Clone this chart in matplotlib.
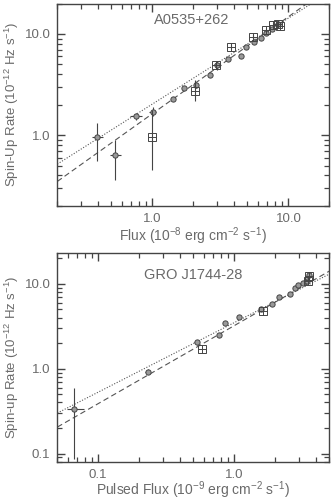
import numpy as np
import matplotlib
matplotlib.use("Agg")
import matplotlib.pyplot as plt
from matplotlib.ticker import LogLocator, NullFormatter

plt.rcParams['font.family'] = ['Liberation Sans', 'DejaVu Sans']
plt.rcParams['mathtext.default'] = 'regular'

# A0535+262 : circles (flux, rate, errors as low/high bounds)
a_flux = [0.39, 0.53, 0.76, 1.01, 1.41, 1.70, 2.09, 2.64, 2.98, 3.61, 4.52, 4.91, 5.62, 6.25, 6.87, 7.60, 8.36]
a_rate = [0.95, 0.635, 1.53, 1.70, 2.27, 2.95, 3.12, 3.91, 4.91, 5.63, 6.02, 7.5, 8.28, 9.19, 10.3, 11.1, 12.5]
a_xlo = [0.357, 0.485, 0.69, 0.95, 1.36, 1.64, 2.02, 2.56, 2.80, 3.50, 4.40, 4.78, 5.48, 6.10, 6.70, 7.42, 8.15]
a_xhi = [0.43, 0.59, 0.84, 1.07, 1.46, 1.76, 2.16, 2.72, 3.20, 3.72, 4.64, 5.04, 5.76, 6.40, 7.04, 7.78, 8.57]
a_ylo = [0.55, 0.36, 1.42, 1.55, 2.17, 2.83, 2.95, 3.75, 4.40, 5.40, 5.80, 7.25, 8.00, 8.90, 9.98, 10.8, 12.1]
a_yhi = [1.33, 0.90, 1.65, 1.90, 2.37, 3.07, 3.30, 4.07, 5.40, 5.86, 6.24, 7.75, 8.56, 9.48, 10.6, 11.4, 12.9]
# A0535+262 : squares
a_sq_flux = [1.0, 2.06, 2.95, 3.79, 5.52, 6.87, 7.77, 8.40, 8.74]
a_sq_rate = [0.95, 2.75, 4.9, 7.5, 9.4, 10.96, 12.3, 12.6, 12.0]
a_sq_ylo = [0.45, 2.2, 4.6, 7.1, 8.9, 10.5, 11.8, 12.1, 11.5]
a_sq_yhi = [1.77, 3.5, 5.2, 7.9, 9.9, 11.4, 12.8, 13.1, 12.5]

# GRO J1744-28 : circles
g_flux = [0.066, 0.231, 0.53, 0.772, 0.855, 1.08, 1.57, 1.88, 2.14, 2.57, 2.79, 2.92, 3.19, 3.45, 3.55]
g_rate = [0.333, 0.925, 2.04, 2.53, 3.45, 4.07, 5.1, 5.74, 6.93, 7.6, 9.0, 9.6, 10.4, 10.9, 12.6]
g_xlo = [0.059, 0.222, 0.51, 0.745, 0.83, 1.04, 1.52, 1.82, 2.07, 2.49, 2.71, 2.84, 3.10, 3.35, 3.45]
g_xhi = [0.078, 0.240, 0.55, 0.80, 0.88, 1.12, 1.62, 1.94, 2.21, 2.65, 2.87, 3.00, 3.28, 3.55, 3.65]
g_ylo = [0.085, 0.87, 1.93, 2.40, 3.28, 3.88, 4.85, 5.48, 6.62, 7.28, 8.6, 9.2, 9.95, 10.4, 12.0]
g_yhi = [0.59, 0.98, 2.15, 2.66, 3.62, 4.26, 5.35, 6.00, 7.24, 7.92, 9.4, 10.0, 10.85, 11.4, 13.2]
# GRO J1744-28 : squares
g_sq_flux = [0.576, 1.64, 3.46, 3.52]
g_sq_rate = [1.70, 4.83, 10.7, 12.3]

# power-law fit lines: (normalisation at flux=1, index)
a_dotted = (2.03, 0.849)
a_dashed = (1.63, 0.958)
g_dotted = (0.30 / 0.05**0.82, 0.82)
g_dashed = (0.205 / 0.05**0.92, 0.92)

GRAY = '#444444'
TXT = '#6a6a6a'


def panel(ax, xlim, ylim, fx, fr, xlo, xhi, ylo, yhi, sx, sr, sylo, syhi, dotted, dashed,
          name, name_pos, xlabel, ylabel, xticks, yticks, xlab_y):
    xx = np.array(xlim)
    ax.plot(xx, dotted[0] * xx**dotted[1], color='#555555', ls=(0, (1, 1.5)), lw=0.8)
    ax.plot(xx, dashed[0] * xx**dashed[1], color='#555555', ls=(0, (5, 3)), lw=0.8)
    fx = np.array(fx); fr = np.array(fr)
    ax.errorbar(fx, fr, xerr=[fx - np.array(xlo), np.array(xhi) - fx],
                yerr=[fr - np.array(ylo), np.array(yhi) - fr],
                fmt='none', ecolor='#444444', elinewidth=0.8, capsize=0)
    ax.plot(fx, fr, 'o', ms=3.8, mfc='#999999', mec='#444444', mew=0.7)
    sx = np.array(sx); sr = np.array(sr)
    if sylo is not None:
        ax.errorbar(sx, sr, yerr=[sr - np.array(sylo), np.array(syhi) - sr],
                    fmt='none', ecolor='#444444', elinewidth=0.8, capsize=0)
    ax.plot(sx, sr, 's', ms=5.5, mfc='none', mec='#444444', mew=0.7)
    ax.plot(sx, sr, '+', ms=5.5, color='#444444', mew=0.7)
    ax.set_xscale('log'); ax.set_yscale('log')
    ax.set_xlim(xlim); ax.set_ylim(ylim)
    ax.set_xticks(xticks)
    ax.set_xticklabels(['%.1f' % t for t in xticks])
    ax.set_yticks(yticks)
    ax.set_yticklabels(['%.1f' % t for t in yticks])
    for axis in (ax.xaxis, ax.yaxis):
        axis.set_minor_locator(LogLocator(base=10, subs=np.arange(2, 10), numticks=20))
        axis.set_minor_formatter(NullFormatter())
    ax.tick_params(which='both', direction='in', top=True, right=True, color=GRAY,
                   labelcolor=TXT, labelsize=9.5, pad=5)
    ax.tick_params(which='major', length=6, width=1.0)
    ax.tick_params(which='minor', length=3.5, width=0.9)
    for s in ax.spines.values():
        s.set_color(GRAY); s.set_linewidth(1.0)
    ax.text(name_pos[0], name_pos[1], name, transform=ax.transAxes, ha='center',
            va='center', fontsize=10.5, color=TXT)
    ax.set_xlabel(xlabel, fontsize=10, color=TXT, va='center')
    ax.xaxis.set_label_coords(0.5, xlab_y)
    ax.set_ylabel(ylabel, fontsize=9.5, color=TXT)
    ax.yaxis.set_label_coords(-0.135, 0.5)


fig = plt.figure(figsize=(3.32, 5.01), dpi=100)
ax1 = fig.add_axes([0.1726, 0.589, 0.8194, 0.404])
ax2 = fig.add_axes([0.1726, 0.0784, 0.8194, 0.416])

panel(ax1, (0.2, 20), (0.2, 20), a_flux, a_rate, a_xlo, a_xhi, a_ylo, a_yhi,
      a_sq_flux, a_sq_rate, a_sq_ylo, a_sq_yhi, a_dotted, a_dashed,
      'A0535+262', (0.495, 0.918), 'Flux (10$^{-8}$ erg cm$^{-2}$ s$^{-1}$)',
      'Spin-Up Rate (10$^{-12}$ Hz s$^{-1}$)', [1.0, 10.0], [1.0, 10.0], -0.148)
panel(ax2, (0.05, 5), (0.08, 23), g_flux, g_rate, g_xlo, g_xhi, g_ylo, g_yhi,
      g_sq_flux, g_sq_rate, None, None, g_dotted, g_dashed,
      'GRO J1744-28', (0.499, 0.896), 'Pulsed Flux (10$^{-9}$ erg cm$^{-2}$ s$^{-1}$)',
      'Spin-up Rate (10$^{-12}$ Hz s$^{-1}$)', [0.1, 1.0], [0.1, 1.0, 10.0], -0.136)

fig.savefig('out.png', dpi=100)
